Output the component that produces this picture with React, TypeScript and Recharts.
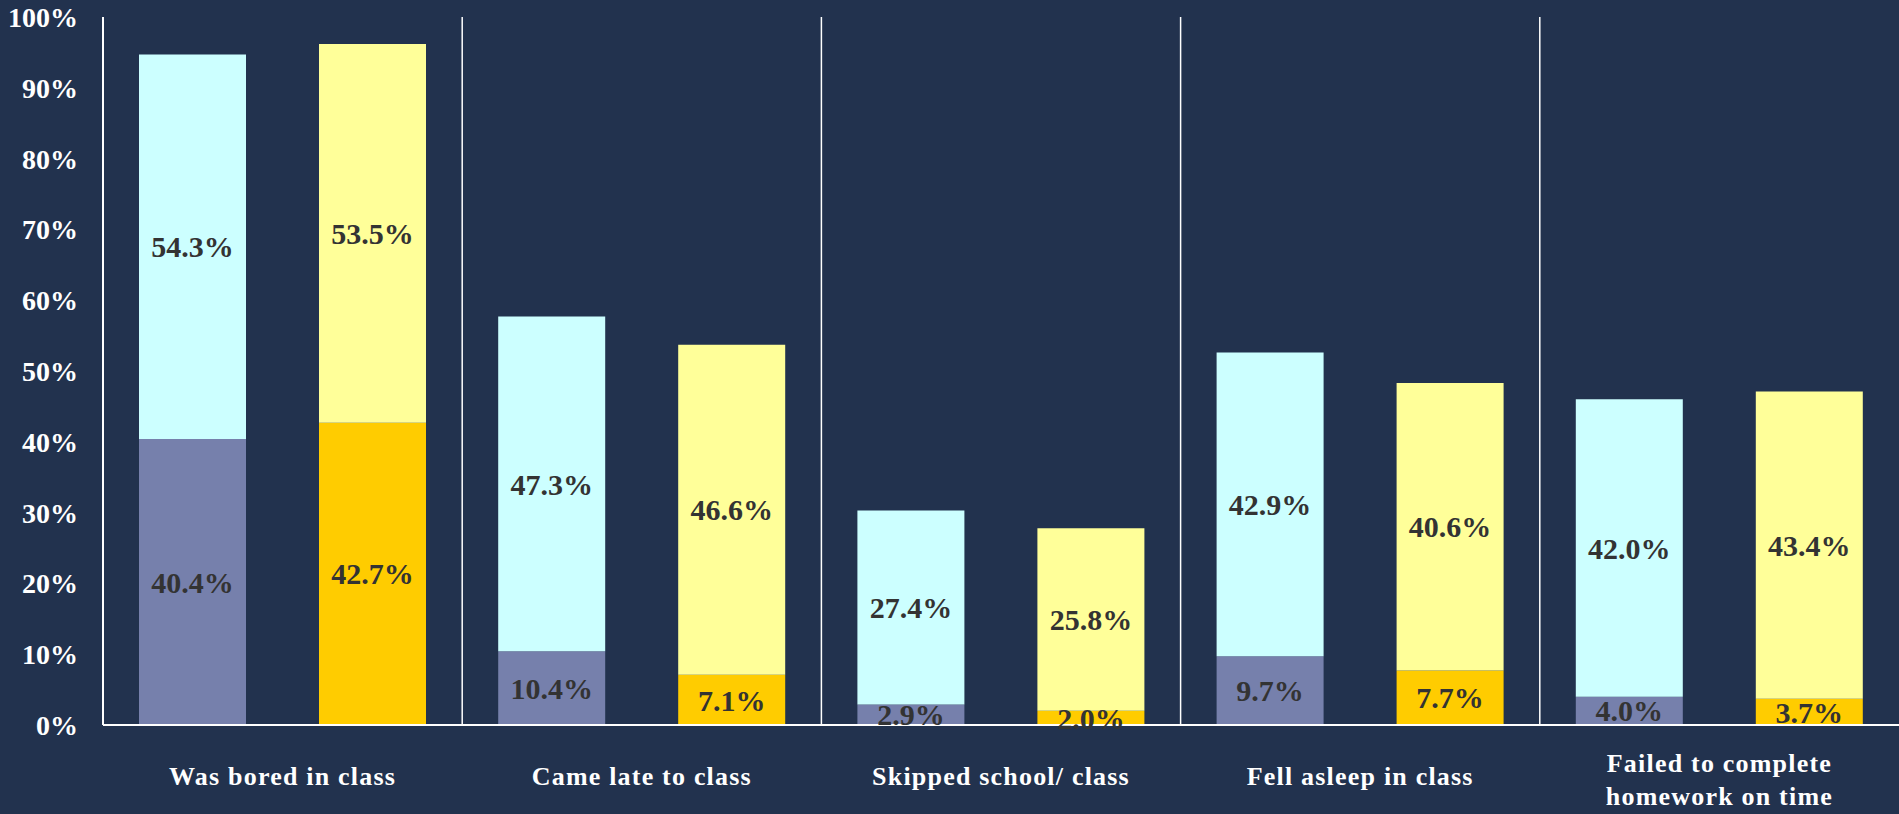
import React from 'react';
import { BarChart, Bar, XAxis, YAxis, ReferenceLine, LabelList } from 'recharts';

const categories = [
  'Was bored in class',
  'Came late to class',
  'Skipped school/ class',
  'Fell asleep in class',
  'Failed to complete homework on time',
];

// group A (left bar of each pair)
const aBottom = [40.4, 10.4, 2.9, 9.7, 4.0];
const aTop = [54.3, 47.3, 27.4, 42.9, 42.0];
// group B (right bar of each pair)
const bBottom = [42.7, 7.1, 2.0, 7.7, 3.7];
const bTop = [53.5, 46.6, 25.8, 40.6, 43.4];

const yTicks = [0, 10, 20, 30, 40, 50, 60, 70, 80, 90, 100];

const data = categories.map((name, i) => ({
  name,
  aBottom: aBottom[i],
  aTop: aTop[i],
  bBottom: bBottom[i],
  bTop: bTop[i],
}));

const BG = '#22324E';
const SERIF = '"Liberation Serif", "DejaVu Serif", serif';

const fmt = (v: any) => `${Number(v).toFixed(1)}%`;

const labelStyle = {
  fill: '#333333',
  fontSize: 30,
  fontWeight: 700,
  fontFamily: SERIF,
};

// wrap long category names onto two lines
const wrap = (text: string, max = 22) => {
  const words = text.split(' ');
  const lines: string[] = [];
  let cur = '';
  words.forEach((w) => {
    const next = cur ? `${cur} ${w}` : w;
    if (next.length > max && cur) {
      lines.push(cur);
      cur = w;
    } else {
      cur = next;
    }
  });
  if (cur) lines.push(cur);
  return lines;
};

const CategoryTick = ({ x, y, payload }: any) => {
  const lines = wrap(String(payload.value));
  const first = 60 - (lines.length - 1) * 13;
  return (
    <g transform={`translate(${x},${y})`}>
      {lines.map((ln, i) => (
        <text
          key={i}
          x={0}
          y={first + i * 33}
          textAnchor="middle"
          fill="#FFFFFF"
          fontSize={26}
          fontWeight={700}
          fontFamily={SERIF}
          letterSpacing={1.2}
        >
          {ln}
        </text>
      ))}
    </g>
  );
};

export default function App() {
  return (
    <div style={{ position: 'absolute', left: 0, top: 0, width: 1899, height: 814, background: BG }}>
      <BarChart
        width={1899}
        height={814}
        data={data}
        margin={{ top: 17, right: 0, bottom: 0, left: 0 }}
        barCategoryGap={36}
        barGap={73}
      >
        <XAxis
          dataKey="name"
          height={89}
          axisLine={{ stroke: '#FFFFFF', strokeWidth: 2 }}
          tickLine={false}
          tickSize={0}
          tickMargin={0}
          interval={0}
          tick={<CategoryTick />}
        />
        <YAxis
          width={103}
          domain={[0, 100]}
          ticks={yTicks}
          interval={0}
          tickFormatter={(v) => `${v}%`}
          axisLine={{ stroke: '#FFFFFF', strokeWidth: 2 }}
          tickLine={false}
          tickSize={0}
          tickMargin={25}
          tick={{ fill: '#FFFFFF', fontSize: 28, fontWeight: 700, fontFamily: SERIF }}
        />
        {categories.slice(1).map((c) => (
          <ReferenceLine key={c} x={c} position="start" stroke="#FFFFFF" strokeWidth={1.5} />
        ))}
        <Bar dataKey="aBottom" stackId="a" fill="#7680AC" isAnimationActive={false}>
          <LabelList dataKey="aBottom" position="center" formatter={fmt} style={labelStyle} />
        </Bar>
        <Bar dataKey="aTop" stackId="a" fill="#CCFFFF" isAnimationActive={false}>
          <LabelList dataKey="aTop" position="center" formatter={fmt} style={labelStyle} />
        </Bar>
        <Bar dataKey="bBottom" stackId="b" fill="#FFCC00" isAnimationActive={false}>
          <LabelList dataKey="bBottom" position="center" formatter={fmt} style={labelStyle} />
        </Bar>
        <Bar dataKey="bTop" stackId="b" fill="#FFFF99" isAnimationActive={false}>
          <LabelList dataKey="bTop" position="center" formatter={fmt} style={labelStyle} />
        </Bar>
      </BarChart>
    </div>
  );
}
